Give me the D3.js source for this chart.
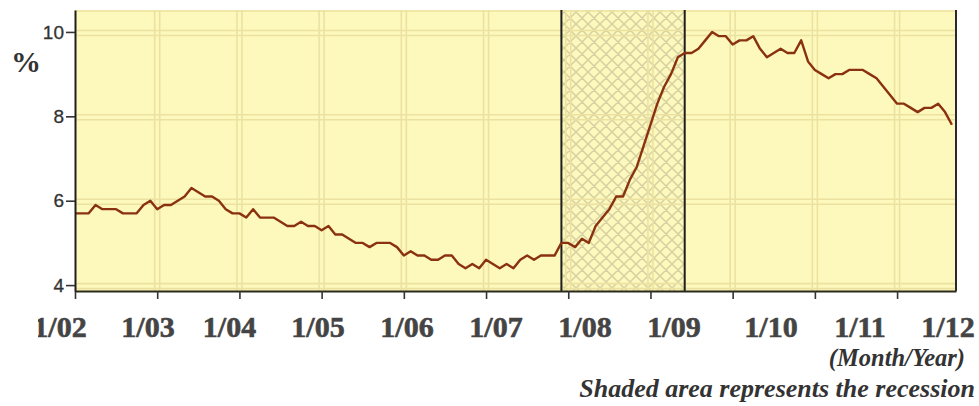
<!DOCTYPE html>
<html>
<head>
<meta charset="utf-8">
<script src="https://cdn.jsdelivr.net/npm/d3@7/dist/d3.min.js"></script>
<style>
  html, body { margin: 0; padding: 0; background: #ffffff; }
  svg { display: block; }
</style>
</head>
<body>
<svg id="chart" width="979" height="406"></svg>
<script>
// ---------- data ----------
const startYear = 2002;
const rate2002 = [5.7, 5.7, 5.7, 5.9, 5.8, 5.8, 5.8, 5.7, 5.7, 5.7, 5.9, 6.0];
const rate2003 = [5.8, 5.9, 5.9, 6.0, 6.1, 6.3, 6.2, 6.1, 6.1, 6.0, 5.8, 5.7];
const rate2004 = [5.7, 5.6, 5.8, 5.6, 5.6, 5.6, 5.5, 5.4, 5.4, 5.5, 5.4, 5.4];
const rate2005 = [5.3, 5.4, 5.2, 5.2, 5.1, 5.0, 5.0, 4.9, 5.0, 5.0, 5.0, 4.9];
const rate2006 = [4.7, 4.8, 4.7, 4.7, 4.6, 4.6, 4.7, 4.7, 4.5, 4.4, 4.5, 4.4];
const rate2007 = [4.6, 4.5, 4.4, 4.5, 4.4, 4.6, 4.7, 4.6, 4.7, 4.7, 4.7, 5.0];
const rate2008 = [5.0, 4.9, 5.1, 5.0, 5.4, 5.6, 5.8, 6.1, 6.1, 6.5, 6.8, 7.3];
const rate2009 = [7.8, 8.3, 8.7, 9.0, 9.4, 9.5, 9.5, 9.6, 9.8, 10.0, 9.9, 9.9];
const rate2010 = [9.7, 9.8, 9.8, 9.9, 9.6, 9.4, 9.5, 9.6, 9.5, 9.5, 9.8, 9.3];
const rate2011 = [9.1, 9.0, 8.9, 9.0, 9.0, 9.1, 9.1, 9.1, 9.0, 8.9, 8.7, 8.5];
const rate2012 = [8.3, 8.3, 8.2, 8.1, 8.2, 8.2, 8.3, 8.1, 7.8];
const xTickLabels = ["1/02", "1/03", "1/04", "1/05", "1/06", "1/07", "1/08", "1/09", "1/10", "1/11", "1/12"];
const yTickValues = [4, 6, 8, 10];
const recession = [{ year: 2007, month: 12 }, { year: 2009, month: 6 }];
const yLabel = "%";
const xNote = "(Month/Year)";
const shadeNote = "Shaded area represents the recession";

// ---------- layout (not data) ----------
const plot = { left: 75, right: 956, top: 10, bottom: 291 };
const labelCenters = [60, 148, 229.5, 318, 407, 496, 585, 674, 771, 860, 948];

const allYears = [rate2002, rate2003, rate2004, rate2005, rate2006, rate2007,
                  rate2008, rate2009, rate2010, rate2011, rate2012];
const series = [];
allYears.forEach((arr, yi) => arr.forEach((v, mi) => series.push({ m: yi * 12 + mi, v })));
const monthIndex = (y, m) => (y - startYear) * 12 + (m - 1);

const x = d3.scaleLinear().domain([0, 128.6]).range([plot.left, plot.right]);
const y = d3.scaleLinear().domain([3.86, 10.52]).range([plot.bottom, plot.top]);

const svg = d3.select("#chart");
const defs = svg.append("defs");

const pat = defs.append("pattern")
  .attr("id", "hatch").attr("patternUnits", "userSpaceOnUse")
  .attr("width", 12).attr("height", 12);
pat.append("rect").attr("width", 12).attr("height", 12).attr("fill", "#fdf8bb");
pat.append("path").attr("d", "M0,0 L12,12 M12,0 L0,12 M-3,9 L3,15 M9,-3 L15,3 M-3,3 L3,-3 M9,15 L15,9")
  .attr("stroke", "#d6d0a2").attr("stroke-width", 1.5);

defs.append("clipPath").attr("id", "plotClip").append("rect")
  .attr("x", plot.left).attr("y", plot.top)
  .attr("width", plot.right - plot.left).attr("height", plot.bottom - plot.top);
defs.append("clipPath").attr("id", "labelClip").append("rect")
  .attr("x", 38).attr("y", 300).attr("width", 979 - 38).attr("height", 106);

// plot background
svg.append("rect")
  .attr("x", plot.left).attr("y", plot.top)
  .attr("width", plot.right - plot.left).attr("height", plot.bottom - plot.top)
  .attr("fill", "#fdf8bb");

// recession hatch
const r0 = x(monthIndex(recession[0].year, recession[0].month));
const r1 = x(monthIndex(recession[1].year, recession[1].month));
svg.append("rect")
  .attr("x", r0).attr("y", plot.top)
  .attr("width", r1 - r0).attr("height", plot.bottom - plot.top)
  .attr("fill", "url(#hatch)");

// grid (double pale lines)
const grid = svg.append("g").attr("clip-path", "url(#plotClip)")
  .attr("stroke", "#ebe2a2").attr("stroke-width", 1.6).attr("fill", "none");
const yearTicks = d3.range(0, 121, 12);
yearTicks.slice(1).forEach(m => {
  [-2.5, 2.5].forEach(o => grid.append("line")
    .attr("x1", x(m) + o).attr("x2", x(m) + o)
    .attr("y1", plot.top).attr("y2", plot.bottom));
});
yTickValues.forEach(v => {
  [-2.5, 2.5].forEach(o => grid.append("line")
    .attr("x1", plot.left).attr("x2", plot.right)
    .attr("y1", y(v) + 1 + o).attr("y2", y(v) + 1 + o));
});
grid.append("line").attr("x1", plot.left).attr("x2", plot.right)
  .attr("y1", plot.top + 1).attr("y2", plot.top + 1);

// recession boundary lines
[r0, r1].forEach(px => svg.append("line")
  .attr("x1", px).attr("x2", px).attr("y1", plot.top).attr("y2", plot.bottom)
  .attr("stroke", "#1e1e1e").attr("stroke-width", 2));

// data line
const line = d3.line().x(d => x(d.m)).y(d => y(d.v));
svg.append("path").datum(series)
  .attr("clip-path", "url(#plotClip)")
  .attr("d", line).attr("fill", "none")
  .attr("stroke", "#8a3210").attr("stroke-width", 2.4)
  .attr("stroke-linejoin", "round");

// right border
svg.append("line").attr("x1", plot.right).attr("x2", plot.right)
  .attr("y1", plot.top).attr("y2", plot.bottom)
  .attr("stroke", "#2a2a2a").attr("stroke-width", 2);

// axes
const xAxis = d3.axisBottom(x).tickValues(yearTicks).tickFormat("").tickSize(8).tickSizeOuter(0);
const gx = svg.append("g").attr("transform", `translate(0,${plot.bottom})`).call(xAxis);
gx.select(".domain").attr("stroke", "#2a2a1a").attr("stroke-width", 2);
gx.selectAll(".tick line").attr("stroke", "#333").attr("stroke-width", 1.6);

const yAxis = d3.axisLeft(y).tickValues(yTickValues).tickFormat(d3.format("d"))
  .tickSize(9).tickSizeOuter(0).tickPadding(2);
const gy = svg.append("g").attr("transform", `translate(${plot.left},0)`).call(yAxis);
gy.select(".domain").attr("stroke", "#1e1e1e").attr("stroke-width", 2);
gy.selectAll(".tick line").attr("stroke", "#333").attr("stroke-width", 1.6);
gy.selectAll(".tick text")
  .attr("font-family", "'Liberation Sans', Arial, sans-serif")
  .attr("font-size", 19).attr("fill", "#333")
  .attr("stroke", "#333").attr("stroke-width", 0.3);

// x labels
svg.append("g").attr("clip-path", "url(#labelClip)")
  .selectAll("text").data(xTickLabels).join("text")
  .attr("x", (d, i) => labelCenters[i]).attr("y", 337)
  .attr("text-anchor", "middle")
  .attr("font-family", "'Liberation Serif', 'Times New Roman', serif")
  .attr("font-weight", "bold").attr("font-size", 30).attr("fill", "#444")
  .attr("stroke", "#444").attr("stroke-width", 0.6)
  .text(d => d);

// y label
svg.append("text").attr("x", 26).attr("y", 72).attr("text-anchor", "middle")
  .attr("font-family", "'Liberation Serif', 'Times New Roman', serif")
  .attr("font-weight", "bold").attr("font-size", 30).attr("fill", "#333")
  .text(yLabel);

// notes
svg.append("text").attr("x", 965).attr("y", 366).attr("text-anchor", "end")
  .attr("font-family", "'Liberation Serif', 'Times New Roman', serif")
  .attr("font-weight", "bold").attr("font-style", "italic")
  .attr("font-size", 24.5).attr("fill", "#333").text(xNote);
svg.append("text").attr("x", 975).attr("y", 397).attr("text-anchor", "end")
  .attr("font-family", "'Liberation Serif', 'Times New Roman', serif")
  .attr("font-weight", "bold").attr("font-style", "italic")
  .attr("font-size", 26).attr("fill", "#333").text(shadeNote);
</script>
</body>
</html>
